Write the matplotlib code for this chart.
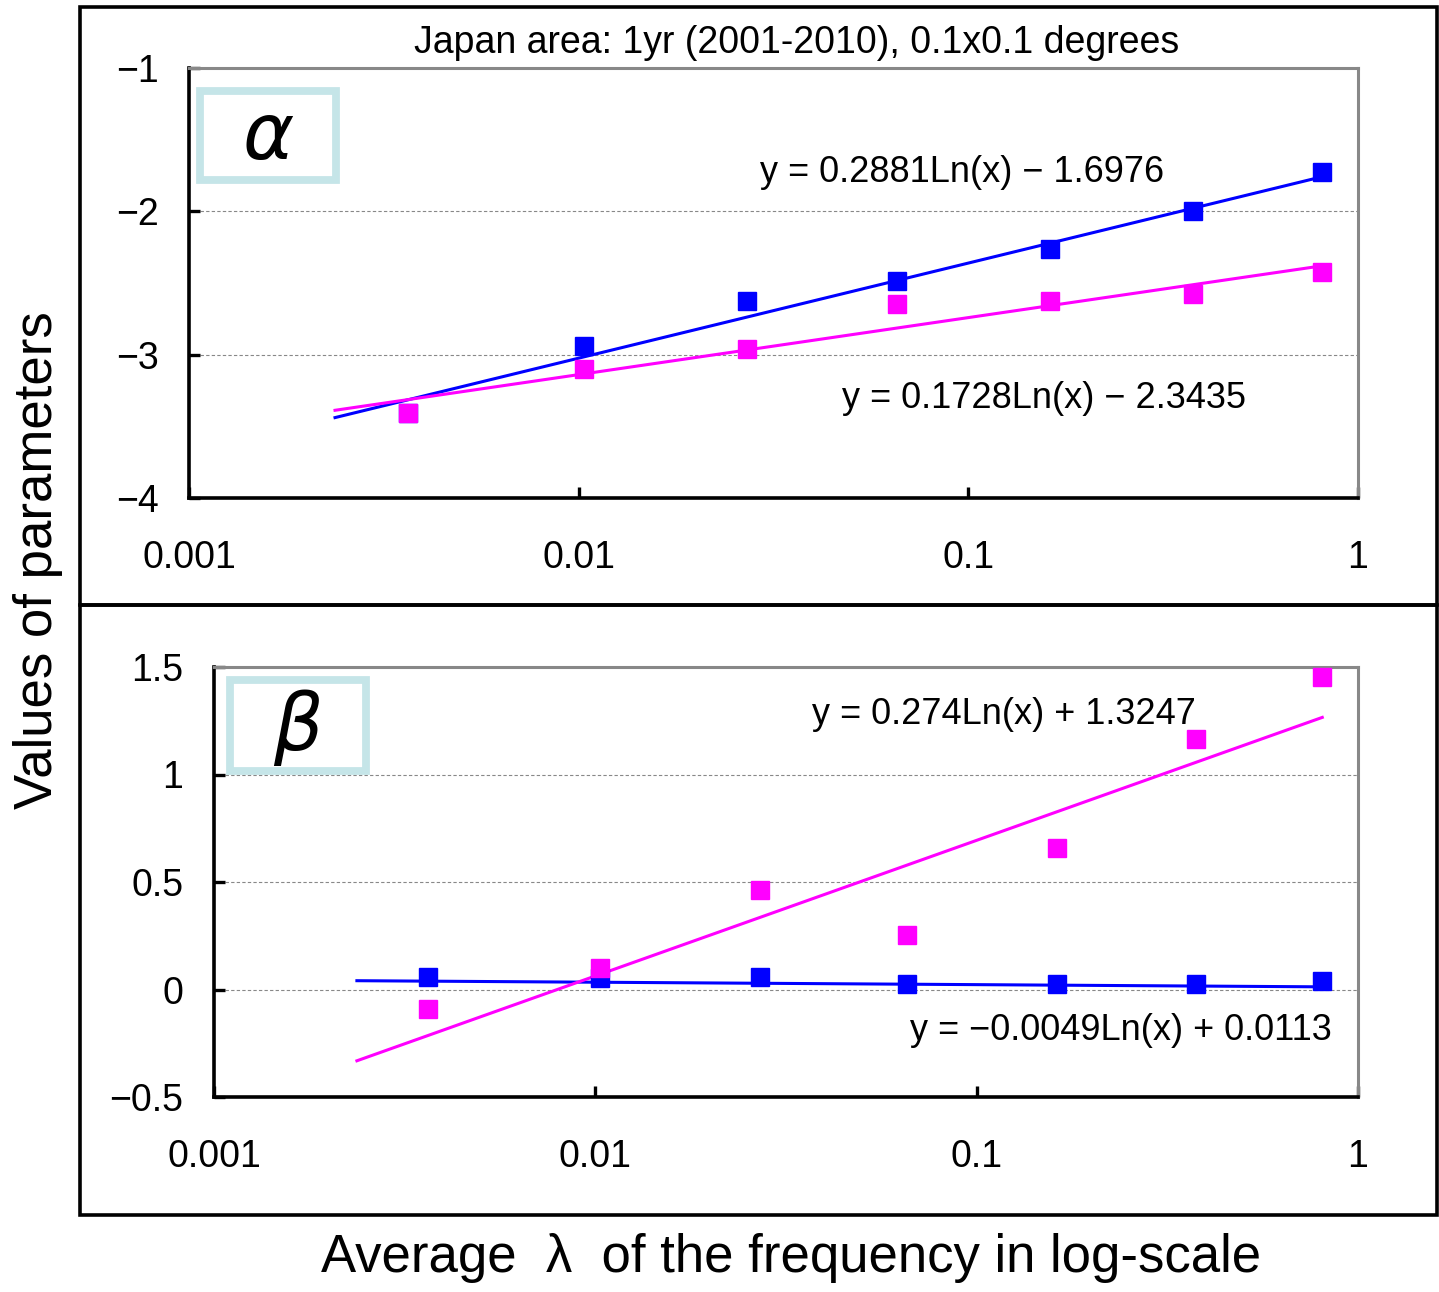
import numpy as np
import matplotlib
matplotlib.use("Agg")
import matplotlib.pyplot as plt
from matplotlib.patches import Rectangle
from matplotlib.ticker import FixedLocator, FixedFormatter, NullLocator

# average lambda of each frequency bin
lam = [0.00364, 0.0103, 0.027, 0.0655, 0.162, 0.377, 0.806]

# alpha estimates
alpha_blue = [-3.41, -2.94, -2.626, -2.486, -2.263, -1.998, -1.726]
alpha_pink = [-3.41, -3.10, -2.96, -2.647, -2.626, -2.577, -2.424]

# beta estimates
beta_blue = [0.058, 0.053, 0.058, 0.026, 0.026, 0.026, 0.040]
beta_pink = [-0.091, 0.10, 0.463, 0.253, 0.658, 1.165, 1.453]

# log trendlines  y = a*ln(x) + b
fit_alpha_blue = (0.2881, -1.6976)
fit_alpha_pink = (0.1728, -2.3435)
fit_beta_blue = (-0.0049, 0.0113)
fit_beta_pink = (0.274, 1.3247)
fit_start = 0.00237

xticks = [0.001, 0.01, 0.1, 1]
xtick_labels = ["0.001", "0.01", "0.1", "1"]
alpha_ticks = [-4, -3, -2, -1]
beta_ticks = [-0.5, 0, 0.5, 1, 1.5]

BLUE = "#0000ff"
PINK = "#ff00ff"
TICKFONT = ["Liberation Sans", "DejaVu Sans"]

W, H = 1439, 1292
fig = plt.figure(figsize=(W / 100, H / 100), dpi=100)


def fx(x):
    return x / W


def fy(y):
    return 1 - y / H


def trend(ax, fit, color):
    a, b = fit
    xs = np.geomspace(fit_start, lam[-1], 200)
    ax.plot(xs, a * np.log(xs) + b, color=color, lw=2.2, zorder=2)


def style(ax, yticks, ylabels, ylim):
    ax.set_xscale("log")
    ax.set_xlim(0.001, 1)
    ax.set_ylim(*ylim)
    ax.xaxis.set_major_locator(FixedLocator(xticks))
    ax.xaxis.set_major_formatter(FixedFormatter(xtick_labels))
    ax.xaxis.set_minor_locator(NullLocator())
    ax.set_yticks(yticks)
    ax.set_yticklabels(ylabels)
    for side in ("left", "bottom"):
        ax.spines[side].set_linewidth(2.6)
        ax.spines[side].set_color("black")
    for side in ("top", "right"):
        ax.spines[side].set_linewidth(2.2)
        ax.spines[side].set_color("#888888")
    ax.tick_params(axis="both", direction="in", length=8, width=2.4, color="black")
    ax.tick_params(axis="x", pad=30, labelsize=27)
    ax.tick_params(axis="y", pad=22, labelsize=27)
    for lab in ax.get_xticklabels() + ax.get_yticklabels():
        lab.set_family(TICKFONT)
    for t in yticks[1:-1]:
        ax.axhline(t, color="#888888", lw=0.8, ls=(0, (3, 2)), zorder=1)


def fmt(v):
    return ("%g" % v).replace("-", "\u2212")


# top panel: alpha
ax1 = fig.add_axes([fx(189), fy(498), fx(1358) - fx(189), fy(68) - fy(498)])
style(ax1, alpha_ticks, [fmt(v) for v in alpha_ticks], (-4, -1))
trend(ax1, fit_alpha_blue, BLUE)
trend(ax1, fit_alpha_pink, PINK)
ax1.plot(lam, alpha_blue, "s", color=BLUE, ms=13, zorder=3)
ax1.plot(lam, alpha_pink, "s", color=PINK, ms=13, zorder=4)

# bottom panel: beta
ax2 = fig.add_axes([fx(214), fy(1097), fx(1358) - fx(214), fy(667) - fy(1097)])
style(ax2, beta_ticks, [fmt(v) for v in beta_ticks], (-0.5, 1.5))
trend(ax2, fit_beta_blue, BLUE)
trend(ax2, fit_beta_pink, PINK)
ax2.plot(lam, beta_blue, "s", color=BLUE, ms=13, zorder=3)
ax2.plot(lam, beta_pink, "s", color=PINK, ms=13, zorder=4)

# outer frames around each panel
for y0, y1 in [(7, 605), (605, 1215)]:
    fig.patches.append(Rectangle((fx(80), fy(y1)), fx(1437) - fx(80), fy(y0) - fy(y1),
                                 transform=fig.transFigure, fill=False,
                                 edgecolor="black", lw=2.6, zorder=0))

# parameter name boxes
for (x0, y0, x1, y1), sym in [((200, 91, 336, 180), "\u03b1"), ((230, 680, 366, 771), "\u03b2")]:
    fig.patches.append(Rectangle((fx(x0), fy(y1)), fx(x1) - fx(x0), fy(y0) - fy(y1),
                                 transform=fig.transFigure, fill=True, facecolor="white",
                                 edgecolor="#c5e5e8", lw=5.6, zorder=5))
    fig.text(fx((x0 + x1) / 2), fy((y0 + y1) / 2 + 2), sym, fontsize=56, style="italic",
             ha="center", va="center", family="DejaVu Sans", zorder=6)

# trendline equations
eq_kw = dict(fontsize=26, family=TICKFONT, va="center")
fig.text(fx(760), fy(173), "y = 0.2881Ln(x) \u2212 1.6976", ha="left", **eq_kw)
fig.text(fx(842), fy(398), "y = 0.1728Ln(x) \u2212 2.3435", ha="left", **eq_kw)
fig.text(fx(812), fy(714), "y = 0.274Ln(x) + 1.3247", ha="left", **eq_kw)
fig.text(fx(1332), fy(1030), "y = \u22120.0049Ln(x) + 0.0113", ha="right", **eq_kw)

fig.text(fx(797), fy(43), "Japan area: 1yr (2001-2010), 0.1x0.1 degrees",
         ha="center", va="center", fontsize=27, family="Liberation Sans")

fig.text(fx(38), fy(560), "Values of parameters", rotation=90, ha="center", va="center",
         fontsize=38, family="Liberation Sans")
fig.text(fx(791), fy(1258), "Average  \u03bb  of the frequency in log-scale", ha="center",
         va="center", fontsize=38, family="Liberation Sans")

fig.savefig("out.png", dpi=100)
